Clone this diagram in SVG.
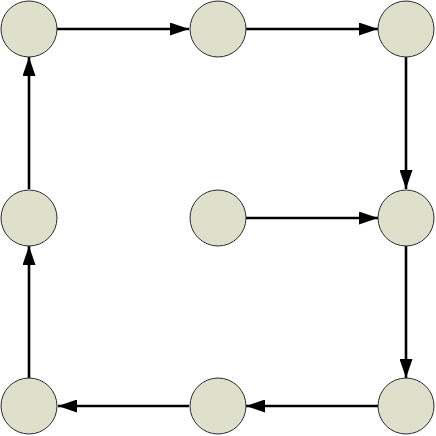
<svg xmlns="http://www.w3.org/2000/svg" width="436" height="436" viewBox="0 0 436 436">
<style>
.n{fill:#dee0cc;stroke:#2b2b2b;stroke-width:1}
.e{stroke:#000;stroke-width:2.6;fill:none;marker-end:url(#a)}
</style>
<defs>
<marker id="a" markerUnits="userSpaceOnUse" markerWidth="19" markerHeight="13" refX="19" refY="6.5" orient="auto">
<path d="M0,0 L19,6.5 L0,13 Z" fill="#000"/>
</marker>
</defs>
<rect width="436" height="436" fill="#fff"/>
<g id="connectors">
<line class="e" x1="57" y1="29" x2="189" y2="29"/>
<line class="e" x1="246" y1="29" x2="378" y2="29"/>
<line class="e" x1="406" y1="57" x2="406" y2="189"/>
<line class="e" x1="246" y1="218" x2="378" y2="218"/>
<line class="e" x1="406" y1="246" x2="406" y2="378"/>
<line class="e" x1="378" y1="406" x2="246" y2="406"/>
<line class="e" x1="189" y1="406" x2="58" y2="406"/>
<line class="e" x1="29" y1="378" x2="29" y2="246"/>
<line class="e" x1="29" y1="189" x2="29" y2="57"/>
</g>
<g id="n1"><circle class="n" cx="29" cy="29" r="28"/></g>
<g id="n2"><circle class="n" cx="218" cy="29" r="28"/></g>
<g id="n3"><circle class="n" cx="406" cy="29" r="28"/></g>
<g id="n4"><circle class="n" cx="29" cy="218" r="28"/></g>
<g id="n5"><circle class="n" cx="218" cy="218" r="28"/></g>
<g id="n6"><circle class="n" cx="406" cy="218" r="28"/></g>
<g id="n7"><circle class="n" cx="29" cy="406" r="28"/></g>
<g id="n8"><circle class="n" cx="218" cy="406" r="28"/></g>
<g id="n9"><circle class="n" cx="406" cy="406" r="28"/></g>
</svg>
